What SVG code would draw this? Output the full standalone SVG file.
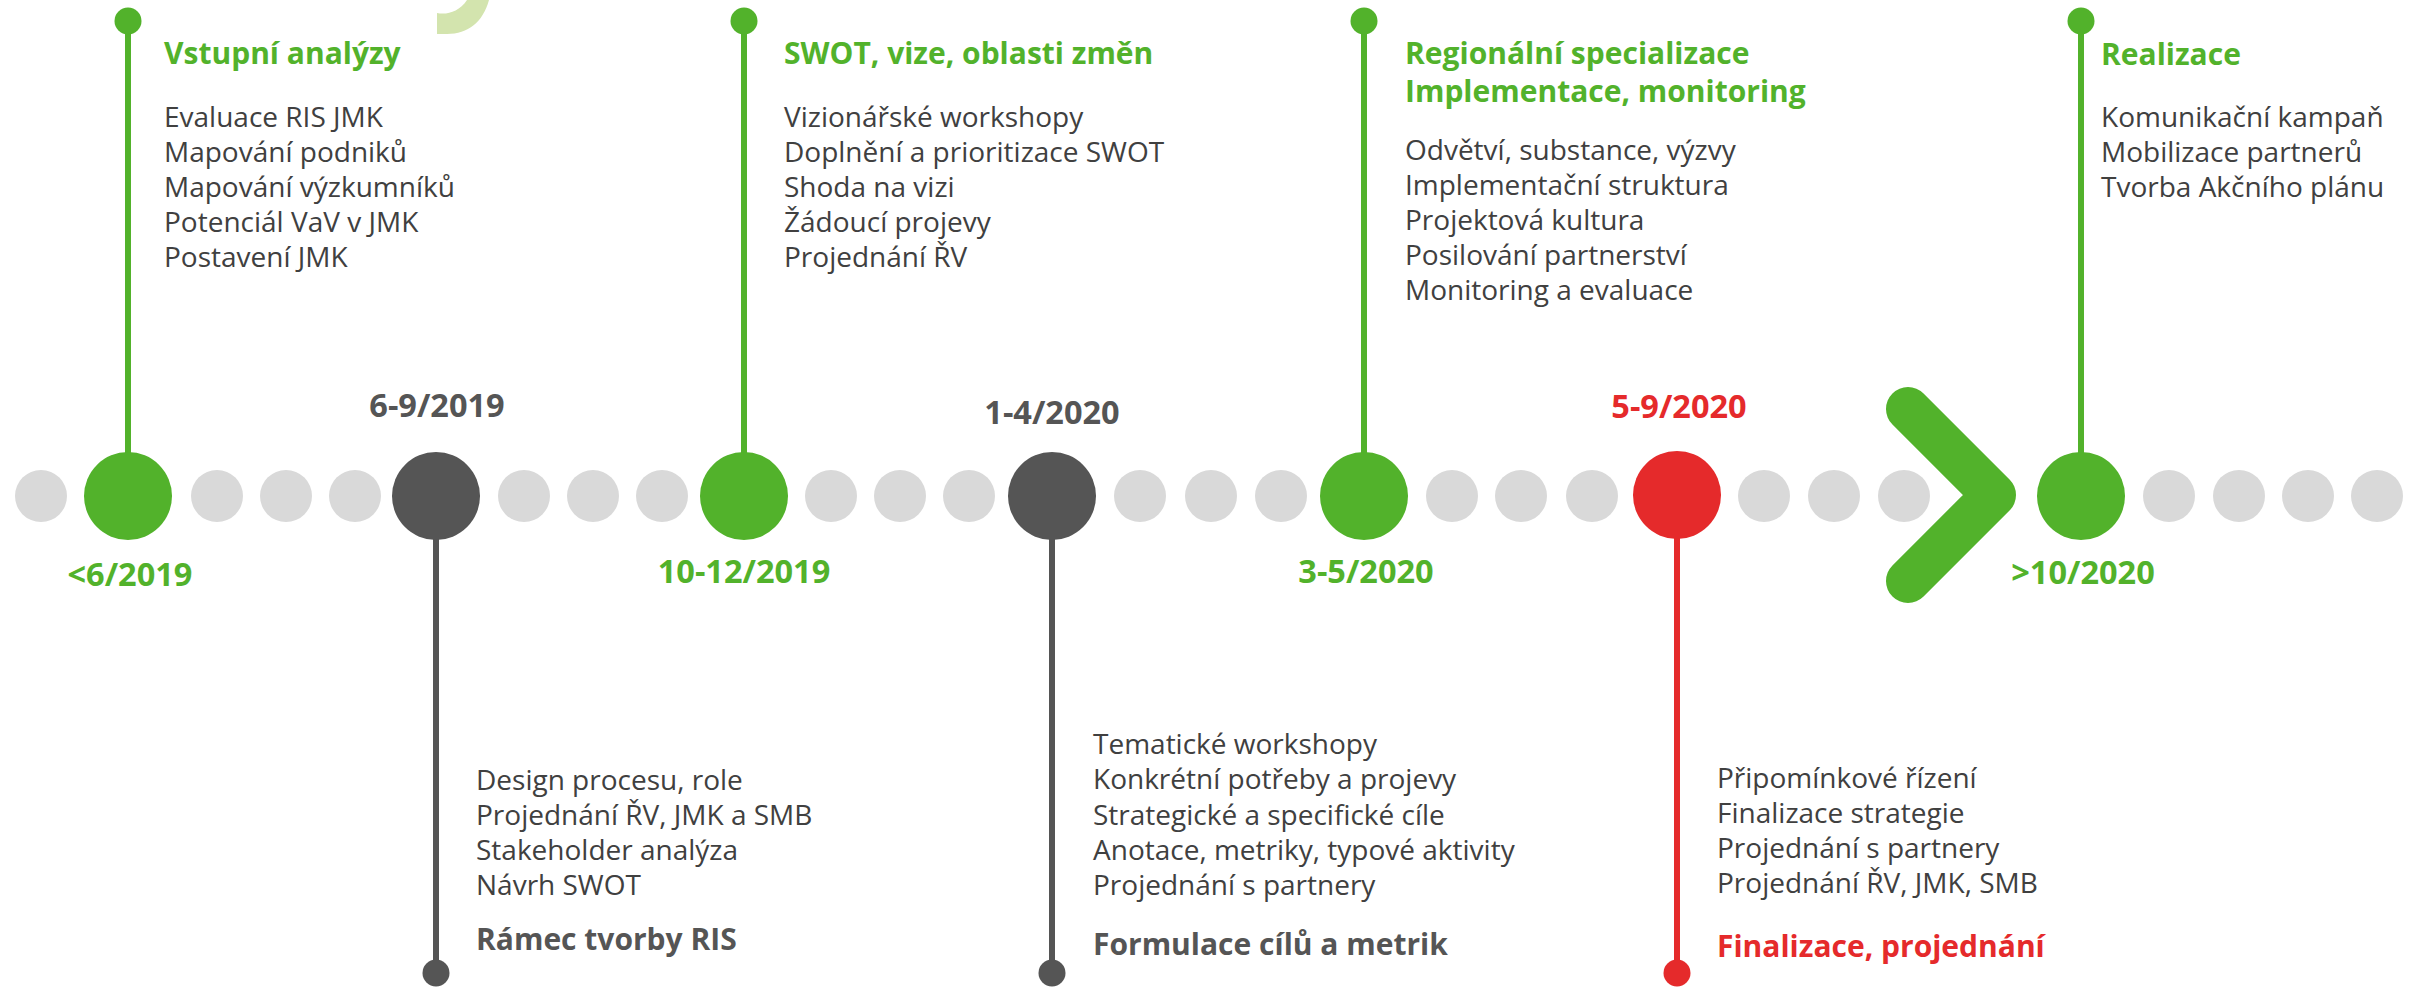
<svg xmlns="http://www.w3.org/2000/svg" width="2417" height="987" viewBox="0 0 2417 987">
<style>
.g{fill:#52B22B}.d{fill:#555555}.r{fill:#E52A2B}.s{fill:#D9D9D9}
.body{font-family:"Open Sans","Noto Sans",sans-serif;font-size:28px;fill:#404040}
.h{font-family:"Open Sans","Noto Sans",sans-serif;font-size:30px;font-weight:bold}
.dt{font-family:"Open Sans","Noto Sans",sans-serif;font-size:32.5px;font-weight:bold;text-anchor:middle}
.gs{stroke:#52B22B;stroke-width:6}.ds{stroke:#555555;stroke-width:6}.rs{stroke:#E52A2B;stroke-width:6}
</style>
<rect width="2417" height="987" fill="#FFFFFF"/>
<path d="M437,13 C447,15 459,12 467,0 L489,0 C483,22 468,34 447,34 L437,34 Z" fill="#D3E4AE"/>
<g id="dots">
<circle class="s" cx="41" cy="496" r="26"/>
<circle class="s" cx="217" cy="496" r="26"/><circle class="s" cx="286" cy="496" r="26"/><circle class="s" cx="355" cy="496" r="26"/>
<circle class="s" cx="524" cy="496" r="26"/><circle class="s" cx="593" cy="496" r="26"/><circle class="s" cx="662" cy="496" r="26"/>
<circle class="s" cx="831" cy="496" r="26"/><circle class="s" cx="900" cy="496" r="26"/><circle class="s" cx="969" cy="496" r="26"/>
<circle class="s" cx="1140" cy="496" r="26"/><circle class="s" cx="1211" cy="496" r="26"/><circle class="s" cx="1281" cy="496" r="26"/>
<circle class="s" cx="1452" cy="496" r="26"/><circle class="s" cx="1521" cy="496" r="26"/><circle class="s" cx="1592" cy="496" r="26"/>
<circle class="s" cx="1764" cy="496" r="26"/><circle class="s" cx="1834" cy="496" r="26"/><circle class="s" cx="1904" cy="496" r="26"/>
<circle class="s" cx="2169" cy="496" r="26"/><circle class="s" cx="2239" cy="496" r="26"/><circle class="s" cx="2308" cy="496" r="26"/><circle class="s" cx="2377" cy="496" r="26"/>
</g>
<g id="connectors">
<line class="gs" x1="128" y1="21" x2="128" y2="460"/>
<line class="gs" x1="744" y1="21" x2="744" y2="460"/>
<line class="gs" x1="1364" y1="21" x2="1364" y2="460"/>
<line class="gs" x1="2081" y1="21" x2="2081" y2="460"/>
<line class="ds" x1="436" y1="530" x2="436" y2="973"/>
<line class="ds" x1="1052" y1="530" x2="1052" y2="973"/>
<line class="rs" x1="1677" y1="530" x2="1677" y2="973"/>
<circle class="g" cx="128" cy="21" r="13.5"/>
<circle class="g" cx="744" cy="21" r="13.5"/>
<circle class="g" cx="1364" cy="21" r="13.5"/>
<circle class="g" cx="2081" cy="21" r="13.5"/>
<circle class="d" cx="436" cy="973" r="13.5"/>
<circle class="d" cx="1052" cy="973" r="13.5"/>
<circle class="r" cx="1677" cy="973" r="13.5"/>
<polyline points="1908,409 1994,495 1908,581" fill="none" stroke="#52B22B" stroke-width="44" stroke-linecap="round" stroke-linejoin="round"/>
</g>
<g id="n1">
<circle class="g" cx="128" cy="496" r="44"/>
<text class="dt g" x="130" y="586">&lt;6/2019</text>
<text class="h g" x="164" y="64">Vstupní analýzy</text>
<text class="body" x="164" y="127">Evaluace RIS JMK</text>
<text class="body" x="164" y="162">Mapování podniků</text>
<text class="body" x="164" y="197">Mapování výzkumníků</text>
<text class="body" x="164" y="232">Potenciál VaV v JMK</text>
<text class="body" x="164" y="267">Postavení JMK</text>
</g>
<g id="n2">
<circle class="d" cx="436" cy="496" r="44"/>
<text class="dt d" x="437" y="417">6-9/2019</text>
<text class="body" x="476" y="790">Design procesu, role</text>
<text class="body" x="476" y="825">Projednání ŘV, JMK a SMB</text>
<text class="body" x="476" y="860">Stakeholder analýza</text>
<text class="body" x="476" y="895">Návrh SWOT</text>
<text class="h d" x="476" y="950">Rámec tvorby RIS</text>
</g>
<g id="n3">
<circle class="g" cx="744" cy="496" r="44"/>
<text class="dt g" x="744" y="583">10-12/2019</text>
<text class="h g" x="784" y="64">SWOT, vize, oblasti změn</text>
<text class="body" x="784" y="127">Vizionářské workshopy</text>
<text class="body" x="784" y="162">Doplnění a prioritizace SWOT</text>
<text class="body" x="784" y="197">Shoda na vizi</text>
<text class="body" x="784" y="232">Žádoucí projevy</text>
<text class="body" x="784" y="267">Projednání ŘV</text>
</g>
<g id="n4">
<circle class="d" cx="1052" cy="496" r="44"/>
<text class="dt d" x="1052" y="424">1-4/2020</text>
<text class="body" x="1093" y="754">Tematické workshopy</text>
<text class="body" x="1093" y="789">Konkrétní potřeby a projevy</text>
<text class="body" x="1093" y="825">Strategické a specifické cíle</text>
<text class="body" x="1093" y="860">Anotace, metriky, typové aktivity</text>
<text class="body" x="1093" y="895">Projednání s partnery</text>
<text class="h d" x="1093" y="955">Formulace cílů a metrik</text>
</g>
<g id="n5">
<circle class="g" cx="1364" cy="496" r="44"/>
<text class="dt g" x="1366" y="583">3-5/2020</text>
<text class="h g" x="1405" y="64">Regionální specializace</text>
<text class="h g" x="1405" y="102">Implementace, monitoring</text>
<text class="body" x="1405" y="160">Odvětví, substance, výzvy</text>
<text class="body" x="1405" y="195">Implementační struktura</text>
<text class="body" x="1405" y="230">Projektová kultura</text>
<text class="body" x="1405" y="265">Posilování partnerství</text>
<text class="body" x="1405" y="300">Monitoring a evaluace</text>
</g>
<g id="n6">
<circle class="r" cx="1677" cy="495" r="44"/>
<text class="dt r" x="1679" y="418">5-9/2020</text>
<text class="body" x="1717" y="788">Připomínkové řízení</text>
<text class="body" x="1717" y="823">Finalizace strategie</text>
<text class="body" x="1717" y="858">Projednání s partnery</text>
<text class="body" x="1717" y="893">Projednání ŘV, JMK, SMB</text>
<text class="h r" x="1717" y="957">Finalizace, projednání</text>
</g>
<g id="n7">
<circle class="g" cx="2081" cy="496" r="44"/>
<text class="dt g" x="2083" y="584">&gt;10/2020</text>
<text class="h g" x="2101" y="65">Realizace</text>
<text class="body" x="2101" y="127">Komunikační kampaň</text>
<text class="body" x="2101" y="162">Mobilizace partnerů</text>
<text class="body" x="2101" y="197">Tvorba Akčního plánu</text>
</g>
</svg>
